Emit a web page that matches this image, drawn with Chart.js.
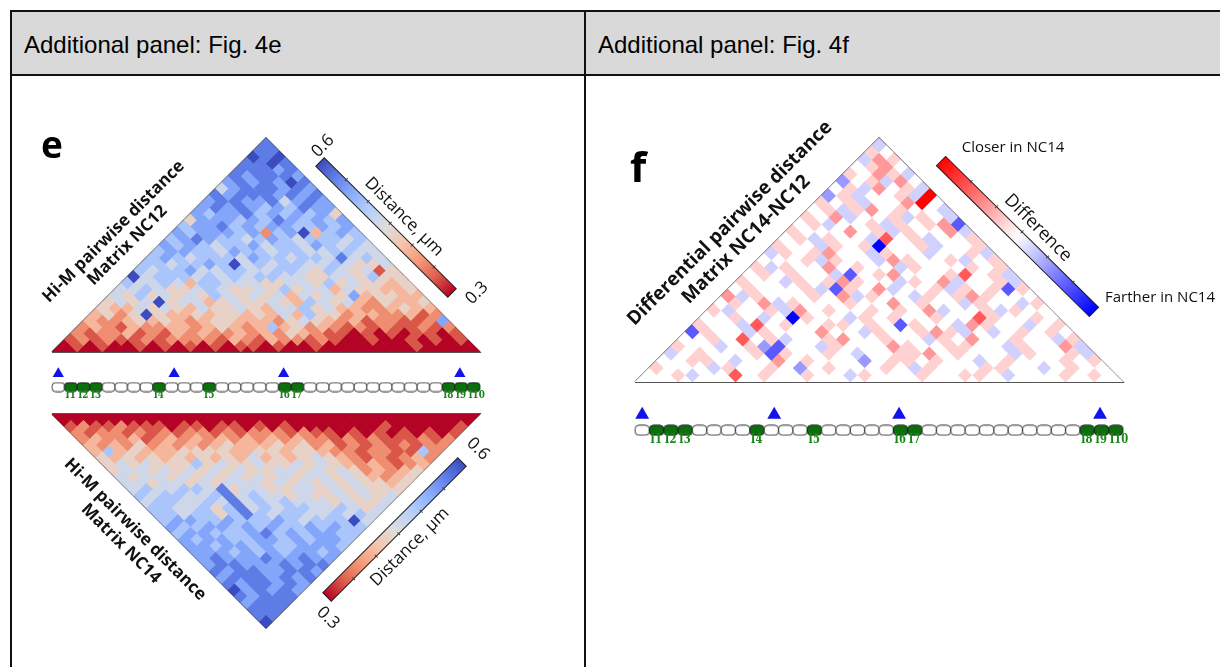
<!DOCTYPE html>
<html>
<head>
<meta charset="utf-8">
<title>Hi-M pairwise distance matrices</title>
<script src="https://cdn.jsdelivr.net/npm/chart.js@4.4.1/dist/chart.umd.min.js"></script>
<style>
  html, body { margin: 0; padding: 0; background: #fff; }
  body { position: relative; width: 1220px; height: 667px; overflow: hidden; }
  .head { position: absolute; top: 12px; height: 62px; background: #d9d9d9; box-sizing: border-box;
          font: 24px "Liberation Sans", Arial, sans-serif; color: #000; line-height: 66px; overflow: hidden; }
  .rule { position: absolute; background: #111; }
  canvas { position: absolute; }
</style>
</head>
<body>
<div class="head" style="left:12px; width:572px; padding-left:12px;">Additional panel: Fig. 4e</div>
<div class="head" style="left:586px; width:634px; padding-left:12px;">Additional panel: Fig. 4f</div>
<div class="rule" style="left:10px; top:10px; width:1210px; height:2px;"></div>
<div class="rule" style="left:10px; top:74px; width:1210px; height:2px;"></div>
<div class="rule" style="left:10px; top:10px; width:2px; height:657px;"></div>
<div class="rule" style="left:584px; top:10px; width:2px; height:657px;"></div>

<canvas id="nc12" width="570" height="590" style="left:13px; top:77px;"></canvas>
<canvas id="nc14" width="570" height="590" style="left:13px; top:77px;"></canvas>
<canvas id="barE" width="570" height="57" style="left:13px; top:355px;"></canvas>
<canvas id="diff" width="633" height="590" style="left:587px; top:77px;"></canvas>
<canvas id="barF" width="633" height="62" style="left:587px; top:395px;"></canvas>

<script>
const N = 34;                                         // genomic bins (barcodes)
const insulatorBins = [1, 2, 3, 8, 12, 18, 19, 31, 32, 33];
const insulatorNames = ['I1', 'I2', 'I3', 'I4', 'I5', 'I6', 'I7', 'I8', 'I9', 'I10'];
const siteBins = [0.5, 9.7, 18.4, 32.4];              // blue markers, in bin units
const distRange = [0.3, 0.6];                         // µm
const diffRange = [-0.1, 0.1];
const diffLevels = [-0.1, -0.065, -0.04, -0.018, 0, 0.018, 0.04, 0.065, 0.1];

// median distance, one string per diagonal (j - i); level 0..9 spans 0.3..0.6 µm
const nc12Rows = [
  '0000000000 0000000000 0000000000 0000',
  '0101001010 1010110100 1000000010 000',
  '1212112122 2213213221 2100100101 01',
  '2122312132 3223232432 1101010110 1',
  '2321322332 3432363423 2121211212',
  '3223434323 4433324543 231221127',
  '3424943343 4434353644 23322312',
  '4335454354 4543556453 3223433',
  '4545945534 5445436545 324334',
  '5464545465 4545354547 34433',
  '5565445654 4546455354 4334',
  '6556536655 5445546454 434',
  '9566656565 6655445546 44',
  '6566755665 5665465451 4',
  '6656676956 5665565445',
  '6765666576 656658565',
  '6776657665 66556655',
  '7676566756 6576565',
  '6787665676 566656',
  '7677767267 93676',
  '6778676776 6767',
  '4777676876 767',
  '7677867676 74',
  '7878767687 7',
  '7887785787',
  '878887878',
  '57888787',
  '7878798',
  '878887',
  '88878',
  '8898',
  '989',
  '88',
  '8'
];

const nc14Rows = [
  '0000000000 0000000000 0000000000 0000',
  '0000000000 0000000000 0000000000 000',
  '1211211101 1011010100 0000010000 01',
  '2122121212 2121222121 1010101010 1',
  '2322312323 2323232322 1212111212',
  '3232423232 3433343423 121212122',
  '3634333444 4334434432 21221162',
  '4343434343 4353434543 2121232',
  '4545444645 4454454543 232123',
  '4554545454 5445545454 23234',
  '5455454545 4545455454 3234',
  '5545545455 5454545454 434',
  '5655665845 5445545454 44',
  '6566556856 5545445454 5',
  '5665565856 5655545445',
  '6655646856 566556545',
  '6656646865 66556565',
  '6776676667 6566695',
  '7667767676 676766',
  '6776667867 67766',
  '7677667767 6776',
  '7767767667 776',
  '7776767677 67',
  '7877787787 7',
  '7887778788',
  '878877887',
  '78887878',
  '8788787',
  '978787',
  '87888',
  '7888',
  '888',
  '88',
  '9'
];

// NC14 minus NC12, level 0..8 (see diffLevels), 4 = unchanged, above 4 = closer in NC14
const diffRows = [
  '4444444444 4444444444 4444444444 4444',
  '4453447454 4544354445 4455434445 454',
  '5444354454 2454445435 4445544345 44',
  '4455434464 5444245545 4434544454 5',
  '3454445154 4543445564 5444354453',
  '5443452144 3544465445 544354463',
  '4454745344 5644544354 64454435',
  '1544354446 4435445653 4345454',
  '5443745445 5454154436 544345',
  '4454340544 3545445447 54454',
  '5344536454 4545463445 3544',
  '4546354445 4464544354 435',
  '6354445463 5443545654 44',
  '4544453154 6344535451 5',
  '5443545654 4354634453',
  '4545443145 644457453',
  '5354464544 35444545',
  '4445354436 5445345',
  '3545644354 434453',
  '5443545044 53445',
  '4535443745 3445',
  '5444645354 463',
  '4534453545 61',
  '5463445354 3',
  '4535645443',
  '545344684',
  '25344538',
  '4536453',
  '245364',
  '54653',
  '4564',
  '365',
  '54',
  '3'
];

const COOLWARM = [[59,76,192],[98,130,234],[141,176,254],[184,208,249],[221,221,221],
                  [245,196,173],[244,154,123],[222,96,77],[180,4,38]];
const BWR = [[0,0,255],[255,255,255],[255,0,0]];

const rgb = c => `rgb(${c[0]},${c[1]},${c[2]})`;
function mapColor(stops, t) {
  t = Math.max(0, Math.min(1, t));
  const p = t * (stops.length - 1);
  const k = Math.min(Math.floor(p), stops.length - 2), f = p - k;
  const a = stops[k], b = stops[k + 1];
  return rgb([0, 1, 2].map(n => Math.round(a[n] + (b[n] - a[n]) * f)));
}
const distColor = v => mapColor(COOLWARM, (distRange[1] - v) / (distRange[1] - distRange[0]));
const diffColor = v => mapColor(BWR, (v - diffRange[0]) / (diffRange[1] - diffRange[0]));
const distValue = k => distRange[0] + k * (distRange[1] - distRange[0]) / 9;
const diffValue = k => diffLevels[k];

// rotated matrix: cell (i, j) sits at x = (i + j + 1) / 2, y = (j - i) / 2
function toCells(rows, toValue) {
  const out = [];
  rows.forEach((row, d) => {
    const s = row.replace(/\s/g, '').slice(0, N - d);
    for (let i = 0; i < s.length; i++) out.push({ x: i + d / 2 + 0.5, y: d / 2, v: toValue(+s[i]) });
  });
  return out;
}

function rotText(ctx, str, x, y, deg, font, color) {
  ctx.save();
  ctx.translate(x, y);
  ctx.rotate(deg * Math.PI / 180);
  ctx.font = font;
  ctx.fillStyle = color || '#111';
  ctx.textAlign = 'center';
  ctx.textBaseline = 'middle';
  ctx.fillText(str, 0, 0);
  ctx.restore();
}

function titleBlock(ctx, lines, cx, cy, deg, font, gap) {
  const a = deg * Math.PI / 180, px = -Math.sin(a), py = Math.cos(a);
  lines.forEach((s, k) => {
    const o = (k - (lines.length - 1) / 2) * gap;
    rotText(ctx, s, cx + px * o, cy + py * o, deg, font);
  });
}

function colorbar(ctx, x1, y1, x2, y2, thick, stops, ticks) {
  const len = Math.hypot(x2 - x1, y2 - y1);
  ctx.save();
  ctx.translate(x1, y1);
  ctx.rotate(Math.atan2(y2 - y1, x2 - x1));
  const g = ctx.createLinearGradient(0, 0, len, 0);
  stops.forEach((c, k) => g.addColorStop(k / (stops.length - 1), rgb(c)));
  ctx.fillStyle = g;
  ctx.fillRect(0, -thick / 2, len, thick);
  ctx.strokeStyle = '#222';
  ctx.lineWidth = 1;
  ctx.strokeRect(0, -thick / 2, len, thick);
  ctx.strokeStyle = '#444';
  for (let k = 1; k < ticks; k++) {
    const t = len * k / ticks;
    ctx.beginPath();
    ctx.moveTo(t, -thick / 2 - 2);
    ctx.lineTo(t, -thick / 2 + 2);
    ctx.stroke();
  }
  ctx.restore();
}

// rounded barcode bead used as a point style
function bead(w, h, fill, stroke) {
  const c = document.createElement('canvas');
  c.width = Math.ceil(w) + 2;
  c.height = Math.ceil(h) + 2;
  const g = c.getContext('2d'), r = h * 0.38, x = (c.width - w) / 2, y = (c.height - h) / 2;
  g.beginPath();
  g.moveTo(x + r, y);
  g.lineTo(x + w - r, y);
  g.quadraticCurveTo(x + w, y, x + w, y + r);
  g.lineTo(x + w, y + h - r);
  g.quadraticCurveTo(x + w, y + h, x + w - r, y + h);
  g.lineTo(x + r, y + h);
  g.quadraticCurveTo(x, y + h, x, y + h - r);
  g.lineTo(x, y + r);
  g.quadraticCurveTo(x, y, x + r, y);
  g.closePath();
  g.fillStyle = fill;
  g.fill();
  g.lineWidth = 1;
  g.strokeStyle = stroke;
  g.stroke();
  return c;
}

const cellRadius = c => {
  const x = c.chart.scales.x;
  return (x.getPixelForValue(1) - x.getPixelForValue(0)) / 2 + 0.4;
};

function heatChart(id, rows, toValue, colorOf, reverse, pad, origin, deco) {
  const frame = [{ x: 0, y: 0 }, { x: N / 2, y: N / 2 }, { x: N, y: 0 }, { x: 0, y: 0 }];
  return new Chart(document.getElementById(id), {
    type: 'scatter',
    data: {
      datasets: [
        {
          data: toCells(rows, toValue),
          pointStyle: 'rectRot',
          pointRadius: cellRadius,
          pointHoverRadius: cellRadius,
          pointBackgroundColor: c => (c.raw ? colorOf(c.raw.v) : '#ddd'),
          pointBorderWidth: 0,
          clip: 0
        },
        {
          data: frame,
          showLine: true,
          borderColor: '#1c1c1c',
          borderWidth: 1.3,
          pointRadius: 0,
          clip: false
        }
      ]
    },
    options: {
      responsive: false,
      animation: false,
      events: [],
      layout: { padding: pad },
      plugins: { legend: { display: false }, tooltip: { enabled: false }, colors: { enabled: false } },
      scales: {
        x: { type: 'linear', min: 0, max: N, display: false },
        y: { type: 'linear', min: 0, max: N / 2, display: false, reverse: reverse }
      }
    },
    plugins: [{
      id: 'deco',
      afterDraw(chart) {
        const ctx = chart.ctx;
        ctx.save();
        ctx.translate(-origin[0], -origin[1]);
        deco(ctx);
        ctx.restore();
      }
    }]
  });
}

function barcodeChart(id, pad, rows, beadW, beadH, triR, labFont) {
  const plain = bead(beadW, beadH, '#ffffff', '#3a3a3a');
  const marked = bead(beadW, beadH, '#0b700b', '#1a1a1a');
  const beads = [];
  for (let b = 0; b < N; b++) beads.push({ x: b + 0.5, y: rows.bead, on: insulatorBins.includes(b) });
  return new Chart(document.getElementById(id), {
    type: 'scatter',
    data: {
      datasets: [
        {
          data: siteBins.map(b => ({ x: b, y: rows.site })),
          pointStyle: 'triangle',
          pointRadius: triR,
          pointBackgroundColor: '#1212ea',
          pointBorderWidth: 0,
          clip: false
        },
        {
          data: beads,
          pointStyle: c => (c.raw && c.raw.on ? marked : plain),
          pointRadius: beadW / 2,
          clip: false
        }
      ]
    },
    options: {
      responsive: false,
      animation: false,
      events: [],
      layout: { padding: pad },
      plugins: { legend: { display: false }, tooltip: { enabled: false }, colors: { enabled: false } },
      scales: {
        x: { type: 'linear', min: 0, max: N, display: false },
        y: { type: 'linear', min: 0, max: rows.height, display: false, reverse: true }
      }
    },
    plugins: [{
      id: 'insulatorLabels',
      afterDraw(chart) {
        const { ctx, scales: { x, y } } = chart;
        ctx.save();
        ctx.font = labFont;
        ctx.fillStyle = '#178617';
        ctx.textAlign = 'left';
        ctx.textBaseline = 'alphabetic';
        insulatorBins.forEach((b, k) => {
          ctx.save();
          ctx.translate(x.getPixelForValue(b) + 1, y.getPixelForValue(rows.label));
          ctx.scale(0.8, 1);                    // narrow serif, as on the barcode legend
          ctx.fillText(insulatorNames[k], 0, 0);
          ctx.restore();
        });
        ctx.restore();
      }
    }]
  });
}

const titleFont = 'bold 17px "Open Sans", "DejaVu Sans", sans-serif';
const labelFont = '17px "Open Sans", "DejaVu Sans", sans-serif';

// Fig. 4e, upper triangle: NC12
heatChart('nc12', nc12Rows, distValue, distColor, false,
  { left: 39, right: 103, top: 61, bottom: 315 }, [13, 77], ctx => {
    ctx.font = 'bold 37px "Open Sans", sans-serif';
    ctx.fillStyle = '#000';
    ctx.fillText('e', 41, 158);
    titleBlock(ctx, ['Hi-M pairwise distance', 'Matrix NC12'], 120.5, 238.5, -45, titleFont, 19.5);
    colorbar(ctx, 320, 162, 452, 293, 12, COOLWARM, 6);
    rotText(ctx, '0.6', 323, 146, -45, labelFont);
    rotText(ctx, '0.3', 477, 293, -45, labelFont);
    rotText(ctx, 'Distance, µm', 404, 217, 45, labelFont);
  });

// Fig. 4e, lower triangle: NC14
heatChart('nc14', nc14Rows, distValue, distColor, true,
  { left: 39, right: 103, top: 337, bottom: 39 }, [13, 77], ctx => {
    titleBlock(ctx, ['Hi-M pairwise distance', 'Matrix NC14'], 128, 536.5, 45, titleFont, 20);
    colorbar(ctx, 462, 462, 327, 597, 12, COOLWARM, 6);
    rotText(ctx, '0.6', 478, 449, 45, labelFont);
    rotText(ctx, '0.3', 328, 618, 45, labelFont);
    rotText(ctx, 'Distance, µm', 410, 547, -45, labelFont);
  });

barcodeChart('barE', { left: 39, right: 103, top: 0, bottom: 0 },
  { height: 57, site: 15.5, bead: 33.3, label: 48.5 }, 12.5, 9, 6.5,
  'bold 11px "DejaVu Serif", serif');

// Fig. 4f: NC14 - NC12
heatChart('diff', diffRows, diffValue, diffColor, false,
  { left: 48, right: 97, top: 61, bottom: 285 }, [587, 77], ctx => {
    ctx.font = 'bold 42px "Open Sans", sans-serif';
    ctx.fillStyle = '#000';
    ctx.fillText('f', 630, 182);
    titleBlock(ctx, ['Differential pairwise distance', 'Matrix NC14-NC12'], 738, 231.5, -45,
      'bold 19px "Open Sans", "DejaVu Sans", sans-serif', 23);
    colorbar(ctx, 941, 161, 1094, 312, 13, BWR.slice().reverse(), 6);
    rotText(ctx, 'Closer in NC14', 1013, 148, 0, '15px "Open Sans", sans-serif');
    rotText(ctx, 'Difference', 1038, 228, 45, '18px "Open Sans", sans-serif');
    rotText(ctx, 'Farther in NC14', 1160, 298, 0, '15px "Open Sans", sans-serif');
  });

barcodeChart('barF', { left: 48, right: 97, top: 0, bottom: 0 },
  { height: 62, site: 15.7, bead: 36.7, label: 54.3 }, 14.2, 10, 8,
  'bold 12.5px "DejaVu Serif", serif');
</script>
</body>
</html>
